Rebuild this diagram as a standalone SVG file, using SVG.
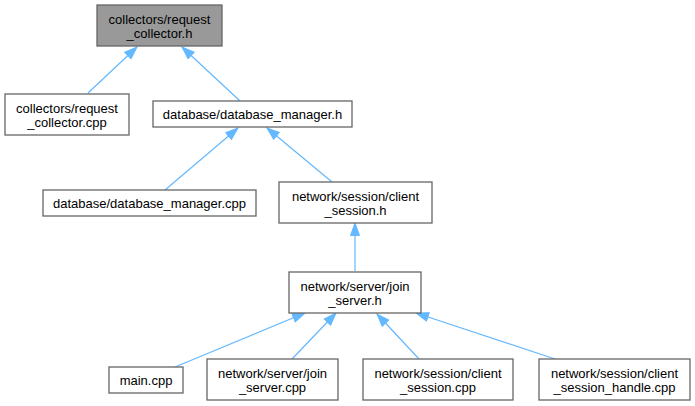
<svg xmlns="http://www.w3.org/2000/svg" width="695" height="406" viewBox="0 0 695 406">
<style>
.n rect{fill:#ffffff;stroke:#666666;stroke-width:1.3}
.n.cur rect{fill:#999999}
.n text{font-family:"Liberation Sans",Arial,sans-serif;font-size:13px;fill:#000000;text-anchor:middle}
.e line{stroke:#63b8ff;stroke-width:1.2;fill:none;marker-end:url(#ah)}
</style>
<defs>
<marker id="ah" markerUnits="userSpaceOnUse" markerWidth="14" markerHeight="11" refX="13" refY="5" orient="auto" viewBox="0 0 14 10">
<path d="M0.5,0.5 L13,5 L0.5,9.5 z" fill="#63b8ff" stroke="#63b8ff" stroke-width="1"/>
</marker>
</defs>
<rect width="695" height="406" fill="#ffffff"/>
<g id="edges" class="e">
<line x1="88" y1="93" x2="137" y2="47"/>
<line x1="240" y1="101" x2="182" y2="47"/>
<line x1="165" y1="190" x2="238" y2="128"/>
<line x1="332" y1="182" x2="267" y2="128"/>
<line x1="355" y1="271" x2="355" y2="223"/>
<line x1="175" y1="367" x2="305" y2="313"/>
<line x1="292" y1="359" x2="336" y2="313"/>
<line x1="419" y1="359" x2="377" y2="314"/>
<line x1="555" y1="359" x2="416" y2="313"/>
</g>
<g id="node1" class="n cur">
<rect x="97" y="5" width="125" height="41"/>
<text x="159.5" y="23.5">collectors/request</text>
<text x="159.5" y="38">_collector.h</text>
</g>
<g id="node2" class="n">
<rect x="5" y="94" width="124" height="41"/>
<text x="67" y="112.5">collectors/request</text>
<text x="67" y="127">_collector.cpp</text>
</g>
<g id="node3" class="n">
<rect x="153" y="101" width="199" height="26"/>
<text x="252.5" y="118.5">database/database_manager.h</text>
</g>
<g id="node4" class="n">
<rect x="43" y="190" width="213" height="26"/>
<text x="149.5" y="207.5">database/database_manager.cpp</text>
</g>
<g id="node5" class="n">
<rect x="279" y="182" width="153" height="41"/>
<text x="355.5" y="200.5">network/session/client</text>
<text x="355.5" y="215">_session.h</text>
</g>
<g id="node6" class="n">
<rect x="289" y="272" width="132" height="41"/>
<text x="355" y="290.5">network/server/join</text>
<text x="355" y="305">_server.h</text>
</g>
<g id="node7" class="n">
<rect x="109" y="367" width="74" height="26"/>
<text x="146" y="384.5">main.cpp</text>
</g>
<g id="node8" class="n">
<rect x="207" y="359" width="131" height="41"/>
<text x="272.5" y="377.5">network/server/join</text>
<text x="272.5" y="392">_server.cpp</text>
</g>
<g id="node9" class="n">
<rect x="363" y="359" width="150" height="41"/>
<text x="438" y="377.5">network/session/client</text>
<text x="438" y="392">_session.cpp</text>
</g>
<g id="node10" class="n">
<rect x="539" y="359" width="151" height="41"/>
<text x="614.5" y="377.5">network/session/client</text>
<text x="614.5" y="392">_session_handle.cpp</text>
</g>
</svg>
